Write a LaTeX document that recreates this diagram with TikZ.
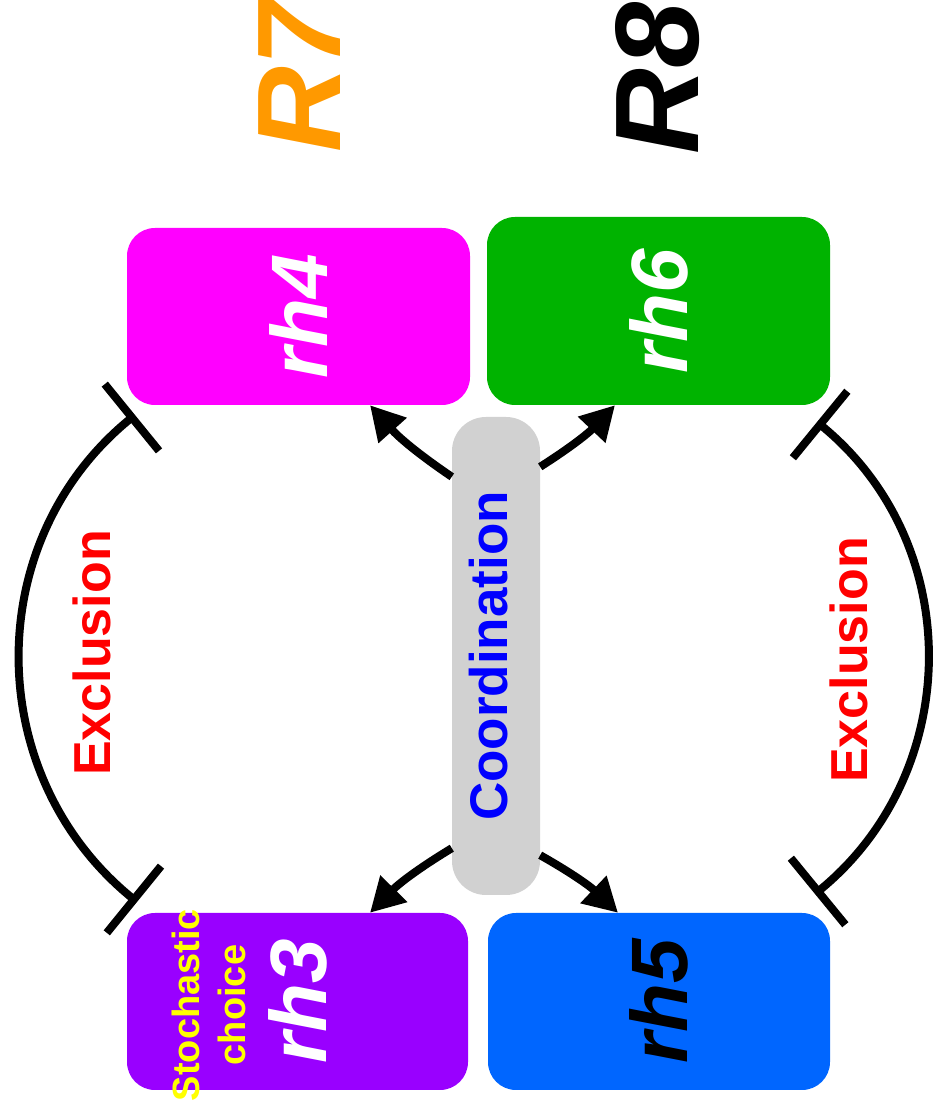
\documentclass[tikz,border=0pt]{standalone}
\usepackage{fontspec}
\usepackage{graphicx}
\setmainfont{Liberation Sans}
\usetikzlibrary{arrows.meta}

\definecolor{boxmagenta}{HTML}{FF00FF}
\definecolor{boxgreen}{HTML}{00B300}
\definecolor{boxpurple}{HTML}{9900FF}
\definecolor{boxblue}{HTML}{0066FF}
\definecolor{coordgray}{HTML}{D1D1D1}
\definecolor{labelorange}{HTML}{FF9900}
\definecolor{labelred}{HTML}{FF0000}
\definecolor{labelblue}{HTML}{0000FF}
\definecolor{labelyellow}{HTML}{FFFF00}

\tikzset{
  rhbox/.style={rectangle, rounded corners=28pt, draw=none, inner sep=0pt,
    minimum width=343pt, minimum height=177pt,
    font=\fontsize{80}{96}\selectfont\bfseries\itshape},
  coordbox/.style={rectangle, rounded corners=34pt, fill=coordgray, draw=none,
    inner sep=0pt, minimum width=88pt, minimum height=478pt,
    text=labelblue, font=\fontsize{53}{64}\selectfont\bfseries},
  regionlabel/.style={rotate=90, inner sep=0pt,
    font=\fontsize{119}{140}\selectfont\bfseries\itshape},
  exclabel/.style={rotate=90, inner sep=0pt, text=labelred,
    font=\fontsize{52}{62}\selectfont\bfseries},
  coordarrow/.style={line width=8pt, -{Triangle[length=34pt,width=36pt]}},
  exclarc/.style={line width=8pt, {Bar[width=86pt]}-{Bar[width=86pt]}}
}

\begin{document}
\begin{tikzpicture}[x=1pt,y=1pt]
  \useasboundingbox (0,0) rectangle (945,1114);

  % region titles
  \node[regionlabel, text=labelorange] (R7) at (300,1038) {R7};
  \node[regionlabel, text=black] (R8) at (658,1036) {R8};

  % the four rh boxes
  \node[rhbox, fill=boxmagenta, text=white] (rh4) at (298.5,797.5) {\rotatebox{90}{rh4}};
  \node[rhbox, fill=boxgreen, text=white, minimum height=188pt] (rh6) at (658.5,803) {\rotatebox{90}{rh6}};
  \node[rhbox, fill=boxpurple, text=white, minimum width=341pt] (rh3) at (297.5,112.5) {\rotatebox{90}{rh3}};
  \node[rhbox, fill=boxblue, text=black, minimum width=342pt] (rh5) at (659,112.5) {\rotatebox{90}{rh5}};

  % note inside rh3
  \node[rotate=90, inner sep=0pt, text=labelyellow, align=center,
        font=\fontsize{38}{46}\selectfont\bfseries] (stoch) at (209,109) {Stochastic\\choice};

  % central coordination bar (label set slightly left of centre)
  \node[coordbox] (coord) at (496,458) {\rotatebox{90}{Coordination}\hspace*{14pt}};

  % coordination arrows
  \draw[coordarrow] ([yshift=-60pt]coord.north west) to[bend left=7]  ([xshift=71.5pt]rh4.south);
  \draw[coordarrow] ([yshift=-50pt]coord.north east) to[bend right=7] ([xshift=-43.5pt]rh6.south);
  \draw[coordarrow] ([yshift=47pt]coord.south west)  to[bend right=7] ([xshift=72.5pt]rh3.north);
  \draw[coordarrow] ([yshift=40pt]coord.south east)  to[bend left=7]  ([xshift=-41pt]rh5.north);

  % mutual exclusion arcs
  \coordinate (exLtop) at (135,699);
  \coordinate (exLbot) at (137,212);
  \coordinate (exRtop) at (817,692);
  \coordinate (exRbot) at (815,220);
  \draw[exclarc] (exLtop) .. controls (-20,573) and (-18,338) .. (exLbot);
  \draw[exclarc] (exRtop) .. controls (966,570) and (964,342) .. (exRbot);

  \node[exclabel] (exL) at (92,461) {Exclusion};
  \node[exclabel] (exR) at (849,454) {Exclusion};
\end{tikzpicture}
\end{document}
